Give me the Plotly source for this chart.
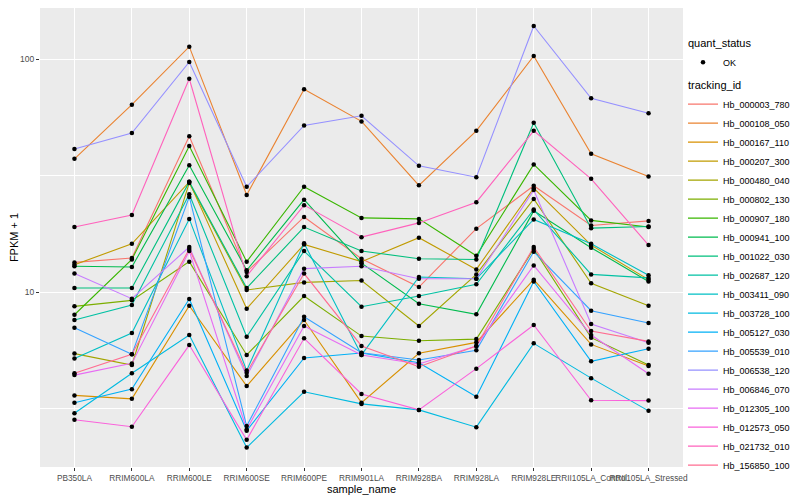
import plotly.graph_objects as go

samples = ["PB350LA", "RRIM600LA", "RRIM600LE", "RRIM600SE", "RRIM600PE", "RRIM901LA",
           "RRIM928BA", "RRIM928LA", "RRIM928LE", "RRII105LA_Control", "RRII105LA_Stressed"]

tracking_ids = ["Hb_000003_780", "Hb_000108_050", "Hb_000167_110", "Hb_000207_300", "Hb_000480_040",
                "Hb_000802_130", "Hb_000907_180", "Hb_000941_100", "Hb_001022_030", "Hb_002687_120",
                "Hb_003411_090", "Hb_003728_100", "Hb_005127_030", "Hb_005539_010", "Hb_006538_120",
                "Hb_006846_070", "Hb_012305_100", "Hb_012573_050", "Hb_021732_010", "Hb_156850_100"]

colors = ["#F8766D", "#EA8331", "#D89000", "#C09B00", "#A3A500", "#7CAE00", "#39B600", "#00BB4E",
          "#00BF7D", "#00C1A3", "#00BFC4", "#00BAE0", "#00B0F6", "#35A2FF", "#9590FF", "#C77CFF",
          "#E76BF3", "#FA62DB", "#FF62BC", "#FF6C91"]

# FPKM + 1 values, one list per tracking_id, in sample order
Hb_000003_780 = [13.4, 14.0, 46.6, 12.2, 21.0, 13.9, 10.5, 18.7, 28.6, 19.3, 20.2]
Hb_000108_050 = [37.3, 63.7, 113, 26.1, 74.1, 54.0, 28.7, 49.2, 103, 39.2, 31.3]
Hb_000167_110 = [3.60, 3.48, 8.73, 3.95, 7.58, 3.35, 5.46, 6.08, 11.3, 5.96, 4.81]
Hb_000207_300 = [13.1, 16.1, 29.7, 8.48, 16.0, 13.5, 17.1, 12.5, 27.9, 15.9, 11.3]
Hb_000480_040 = [5.44, 4.86, 29.4, 10.2, 11.0, 11.2, 7.15, 11.9, 25.1, 10.9, 8.73]
Hb_000802_130 = [8.68, 9.21, 13.5, 5.37, 9.61, 6.47, 6.18, 6.28, 15.3, 6.37, 4.86]
Hb_000907_180 = [7.99, 13.8, 42.3, 13.5, 28.3, 20.8, 20.6, 14.3, 35.3, 20.3, 19.0]
Hb_000941_100 = [12.9, 12.8, 35.0, 12.4, 24.9, 13.3, 8.91, 8.02, 22.3, 15.5, 11.1]
Hb_001022_030 = [10.4, 10.4, 29.7, 10.4, 19.0, 15.0, 13.9, 13.8, 53.3, 18.8, 19.1]
Hb_002687_120 = [7.58, 8.79, 26.3, 6.43, 15.0, 8.65, 9.61, 10.8, 22.6, 11.9, 11.5]
Hb_003411_090 = [5.19, 6.67, 20.6, 4.60, 16.2, 5.37, 11.6, 11.4, 20.5, 16.1, 11.8]
Hb_003728_100 = [3.02, 4.48, 6.54, 2.15, 3.73, 3.31, 3.12, 2.63, 6.02, 4.27, 3.09]
Hb_005127_030 = [3.35, 3.83, 9.33, 2.54, 5.21, 5.47, 4.97, 3.55, 11.1, 5.04, 5.71]
Hb_005539_010 = [7.03, 5.40, 25.6, 2.66, 7.83, 5.49, 5.11, 5.62, 14.9, 8.31, 7.36]
Hb_006538_120 = [41.1, 48.1, 97.1, 28.3, 51.9, 57.1, 34.8, 31.1, 138.6, 67.8, 58.5]
Hb_006846_070 = [12.0, 9.36, 15.6, 4.36, 12.6, 12.9, 11.4, 11.4, 27.4, 7.29, 6.06]
Hb_012305_100 = [4.40, 4.94, 15.0, 2.57, 7.15, 5.37, 4.91, 5.87, 13.0, 6.54, 4.46]
Hb_012573_050 = [2.83, 2.64, 5.92, 2.32, 6.33, 3.65, 3.12, 4.69, 7.22, 3.43, 3.42]
Hb_021732_010 = [19.0, 21.4, 82.3, 11.7, 23.6, 17.2, 19.8, 24.3, 49.2, 30.6, 15.9]
Hb_156850_100 = [4.48, 5.40, 15.3, 4.50, 12.0, 5.87, 4.78, 5.87, 15.6, 6.80, 6.14]

series = [Hb_000003_780, Hb_000108_050, Hb_000167_110, Hb_000207_300, Hb_000480_040,
          Hb_000802_130, Hb_000907_180, Hb_000941_100, Hb_001022_030, Hb_002687_120,
          Hb_003411_090, Hb_003728_100, Hb_005127_030, Hb_005539_010, Hb_006538_120,
          Hb_006846_070, Hb_012305_100, Hb_012573_050, Hb_021732_010, Hb_156850_100]

FONT = "Liberation Sans, Arial, Helvetica, sans-serif"

fig = go.Figure()

for i, (name, vals, col) in enumerate(zip(tracking_ids, series, colors)):
    fig.add_trace(go.Scatter(
        x=samples, y=vals, mode="lines", name=name,
        line=dict(color=col, width=1.1),
        legendgroup="tracking_id",
        legendgrouptitle=dict(text="tracking_id", font=dict(size=11, color="black", family=FONT)),
        legendrank=10 + i,
        hoverinfo="x+y+name",
    ))

all_x = []
all_y = []
for vals in series:
    all_x.extend(samples)
    all_y.extend(vals)

fig.add_trace(go.Scatter(
    x=all_x, y=all_y, mode="markers", name="OK",
    marker=dict(color="black", size=4.5, symbol="circle"),
    legendgroup="quant_status",
    legendgrouptitle=dict(text="quant_status", font=dict(size=11, color="black", family=FONT)),
    legendrank=1,
))

# The page body adds an 8px offset; the figure is sized so that it fills the window.
fig.update_layout(
    width=792, height=492,
    margin=dict(l=32, r=117, t=0, b=33, autoexpand=False),
    paper_bgcolor="white",
    plot_bgcolor="#EBEBEB",
    font=dict(family=FONT, size=9, color="#4D4D4D"),
    showlegend=True,
    legend=dict(
        x=1.0, xanchor="left", y=0.955, yanchor="top",
        font=dict(size=9, color="black", family=FONT),
        tracegroupgap=4,
        itemwidth=30,
        bgcolor="rgba(0,0,0,0)",
    ),
    xaxis=dict(
        type="category",
        categoryorder="array", categoryarray=samples,
        range=[-0.6, 10.6],
        showgrid=True, gridcolor="white", gridwidth=1.1,
        ticks="outside", ticklen=3, tickcolor="#333333", tickwidth=1,
        tickangle=0,
        tickfont=dict(size=8.3, color="#4D4D4D", family=FONT),
        showline=False, zeroline=False,
        title=dict(text="sample_name", font=dict(size=11, color="black", family=FONT), standoff=2),
    ),
    yaxis=dict(
        type="log",
        range=[0.249, 2.219],
        tickvals=[10, 100], ticktext=["10", "100"],
        showgrid=True, gridcolor="white", gridwidth=1.1,
        minor=dict(tickvals=[10 ** 0.5, 10 ** 1.5], showgrid=True, gridcolor="white",
                   gridwidth=0.5, ticks=""),
        ticks="outside", ticklen=3, tickcolor="#333333", tickwidth=1,
        tickfont=dict(size=8.5, color="#4D4D4D", family=FONT),
        showline=False, zeroline=False,
        title=dict(text="FPKM + 1", font=dict(size=11, color="black", family=FONT), standoff=8),
    ),
)

fig.write_html("out.html")
